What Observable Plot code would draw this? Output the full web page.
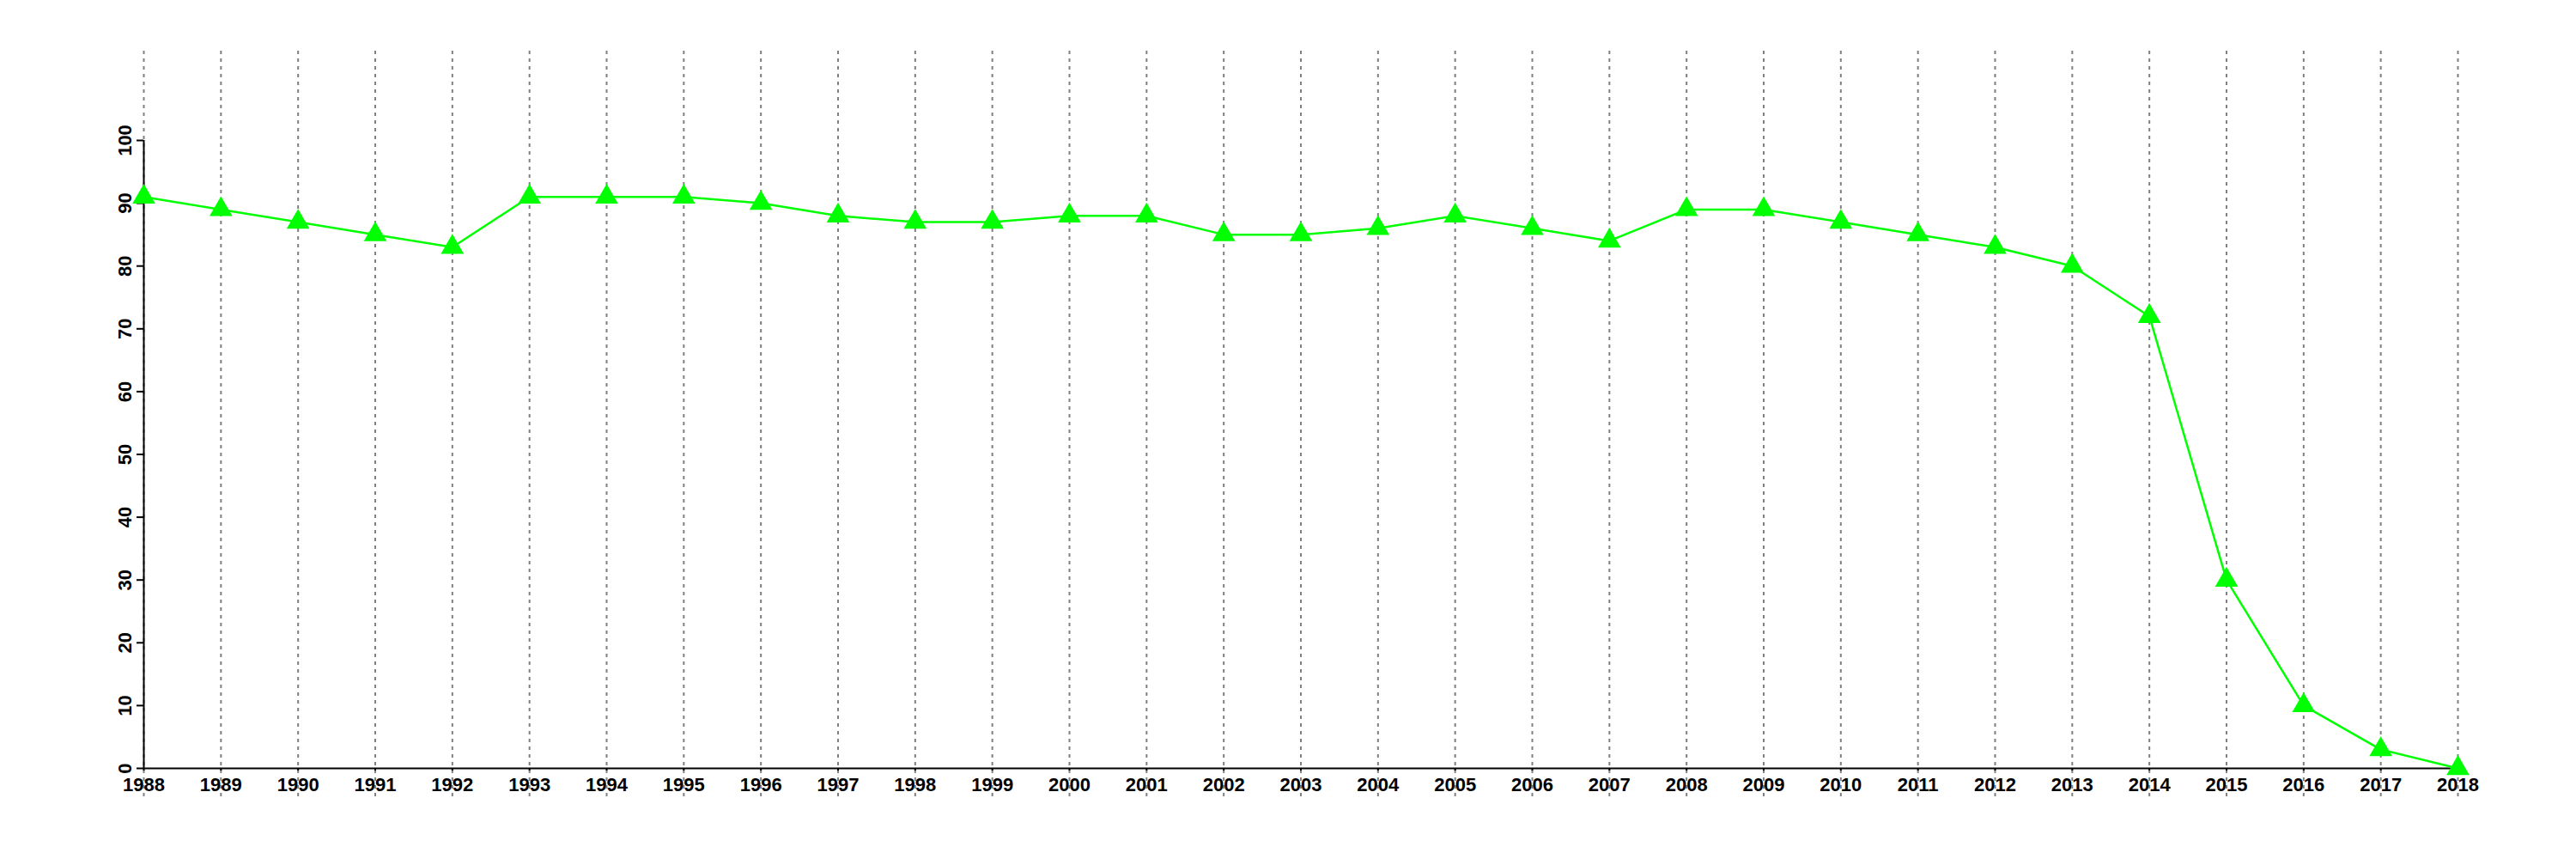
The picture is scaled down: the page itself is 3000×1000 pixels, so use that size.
<!DOCTYPE html>
<html>
<head>
<meta charset="utf-8">
<script src="https://cdn.jsdelivr.net/npm/d3@7"></script>
<script src="https://cdn.jsdelivr.net/npm/@observablehq/plot@0.6"></script>
<style>
  html, body { margin: 0; padding: 0; background: #ffffff; }
  #chart svg { display: block; }
</style>
</head>
<body>
<div id="chart"></div>
<script>
const years = [1988,1989,1990,1991,1992,1993,1994,1995,1996,1997,1998,1999,2000,2001,2002,2003,2004,2005,2006,2007,2008,2009,2010,2011,2012,2013,2014,2015,2016,2017,2018];
const values = [91,89,87,85,83,91,91,91,90,88,87,87,88,88,85,85,86,88,86,84,89,89,87,85,83,80,72,30,10,3,0];
const yTicks = [0,10,20,30,40,50,60,70,80,90,100];

const data = years.map((year, i) => ({year, value: values[i]}));

const chart = Plot.plot({
  width: 3000,
  height: 1000,
  marginLeft: 167,
  marginRight: 138,
  marginTop: 163,
  marginBottom: 106,
  style: {fontFamily: "'Liberation Sans', Arial, sans-serif", fontSize: "22px", fontWeight: "bold", color: "#000", background: "#fff"},
  x: {domain: [1988, 2018], type: "linear"},
  y: {domain: [0, 100]},
  marks: [
    Plot.ruleX(years, {x: d => d, y1: -4.5, y2: 114.3, stroke: "#808080", strokeWidth: 2, strokeDasharray: "4,5"}),
    Plot.axisX({ticks: years, tickFormat: d => String(d), tickSize: 3, tickPadding: 8, fontSize: 22, fontWeight: "bold", label: null, stroke: "#000", strokeWidth: 2}),
    Plot.axisY({ticks: yTicks, tickRotate: -90, tickSize: 8, tickPadding: 7, fontSize: 22, fontWeight: "bold", label: null, stroke: "#000", strokeWidth: 2}),
    Plot.ruleX([1988], {y1: 0, y2: 100, stroke: "#000", strokeWidth: 2}),
    Plot.ruleY([0], {x1: 1988, x2: 2018, stroke: "#000", strokeWidth: 2}),
    Plot.line(data, {x: "year", y: "value", stroke: "#00ff00", strokeWidth: 2.5}),
    Plot.dot(data, {x: "year", y: "value", symbol: "triangle", r: 9.9, fill: "#00ff00", stroke: "none"})
  ]
});
document.getElementById("chart").appendChild(chart);
</script>
</body>
</html>
